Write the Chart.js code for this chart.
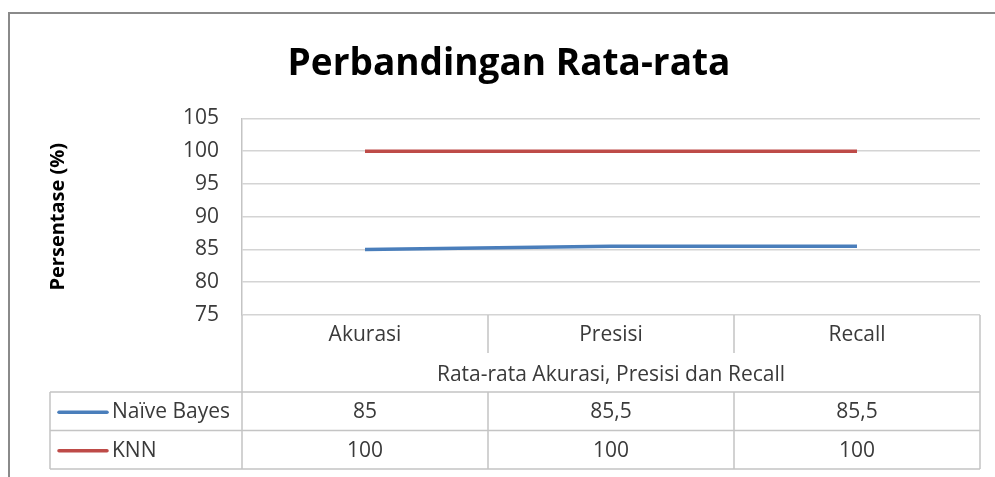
<!DOCTYPE html>
<html>
<head>
<meta charset="utf-8">
<script src="https://cdn.jsdelivr.net/npm/chart.js@4.4.1/dist/chart.umd.min.js"></script>
<style>
  html, body { margin: 0; padding: 0; background: #ffffff; }
  #wrap { width: 995px; height: 477px; position: relative; }
</style>
</head>
<body>
<div id="wrap"><canvas id="c" width="995" height="477"></canvas></div>
<script>
const chartTitle = "Perbandingan Rata-rata";
const categories = ["Akurasi", "Presisi", "Recall"];
const xAxisTitle = "Rata-rata Akurasi, Presisi dan Recall";
const yAxisTitle = "Persentase (%)";
const seriesNames = ["Naïve Bayes", "KNN"];
const naiveBayes = [85, 85.5, 85.5];
const knn = [100, 100, 100];
const seriesColors = ["#4a7ebb", "#be4b48"];
const yMin = 75, yMax = 105, yStep = 5;

const FONT = "'Open Sans', Lato, sans-serif";
const TEXT = "#3a3a3a";
const GRID = "#d4d4d4";
const TABLE_LINE = "#c4c4c4";

const fmt = v => String(v).replace('.', ',');

const tablePlugin = {
  id: 'dataTable',
  beforeDraw(chart) {
    const ctx = chart.ctx;
    ctx.save();
    ctx.fillStyle = '#ffffff';
    ctx.fillRect(0, 0, chart.width, chart.height);
    ctx.strokeStyle = '#8a8a8a';
    ctx.lineWidth = 2;
    ctx.strokeRect(9, 13, chart.width + 20, chart.height + 20);
    ctx.restore();
  },
  afterDraw(chart) {
    const ctx = chart.ctx;
    const xs = chart.scales.x;
    const area = chart.chartArea;
    const n = categories.length;
    const bounds = [];
    for (let i = 0; i <= n; i++) bounds.push(xs.getPixelForValue(i - 0.5));
    const left = 50;
    const catRowBottom = area.bottom + 38;
    const tableTop = area.bottom + 77;
    const rowH = 38.5;
    const tableBottom = tableTop + rowH * seriesNames.length;

    ctx.save();
    ctx.strokeStyle = TABLE_LINE;
    ctx.lineWidth = 1.5;
    ctx.beginPath();
    ctx.moveTo(bounds[0], area.bottom); ctx.lineTo(bounds[0], tableBottom);
    ctx.moveTo(bounds[n], area.bottom); ctx.lineTo(bounds[n], tableBottom);
    for (let i = 1; i < n; i++) {
      ctx.moveTo(bounds[i], area.bottom); ctx.lineTo(bounds[i], catRowBottom);
      ctx.moveTo(bounds[i], tableTop); ctx.lineTo(bounds[i], tableBottom);
    }
    ctx.moveTo(left, tableTop); ctx.lineTo(left, tableBottom);
    for (let r = 0; r <= seriesNames.length; r++) {
      const y = tableTop + r * rowH;
      ctx.moveTo(left, y); ctx.lineTo(bounds[n], y);
    }
    ctx.stroke();

    const datasets = chart.data.datasets;
    ctx.font = "21px " + FONT;
    ctx.textBaseline = 'middle';
    datasets.forEach((ds, r) => {
      const cy = tableTop + r * rowH + rowH / 2 + 1;
      ctx.strokeStyle = ds.borderColor;
      ctx.lineWidth = 3.5;
      ctx.lineCap = 'round';
      ctx.beginPath();
      ctx.moveTo(59, cy); ctx.lineTo(107, cy);
      ctx.stroke();
      ctx.fillStyle = TEXT;
      ctx.textAlign = 'left';
      ctx.fillText(ds.label, 112, cy);
      ctx.textAlign = 'center';
      ds.data.forEach((v, i) => {
        ctx.fillText(fmt(v), xs.getPixelForValue(i), cy);
      });
    });
    ctx.restore();
  }
};

new Chart(document.getElementById('c'), {
  type: 'line',
  data: {
    labels: categories,
    datasets: [
      { label: seriesNames[0], data: naiveBayes, borderColor: seriesColors[0], backgroundColor: seriesColors[0], borderWidth: 3.5, pointRadius: 0, tension: 0 },
      { label: seriesNames[1], data: knn, borderColor: seriesColors[1], backgroundColor: seriesColors[1], borderWidth: 3.5, pointRadius: 0, tension: 0 }
    ]
  },
  plugins: [tablePlugin],
  options: {
    responsive: false,
    animation: false,
    devicePixelRatio: 1,
    layout: { padding: { left: 38, right: 15, top: 0, bottom: 8 } },
    plugins: {
      legend: { display: false },
      tooltip: { enabled: false },
      title: {
        display: true,
        text: chartTitle,
        color: '#000000',
        font: { family: FONT, size: 37, weight: 'bold', lineHeight: 1.2 },
        padding: { top: 42, bottom: 32 }
      }
    },
    scales: {
      x: {
        type: 'category',
        offset: true,
        grid: { display: false, drawTicks: false },
        border: { display: false },
        ticks: { color: TEXT, font: { family: FONT, size: 21 }, padding: 7, maxRotation: 0 },
        title: {
          display: true,
          text: xAxisTitle,
          color: TEXT,
          font: { family: FONT, size: 21, lineHeight: 1.2 },
          padding: { top: 0, bottom: 81 }
        },
        afterFit(scale) { scale.height = 154; }
      },
      y: {
        min: yMin,
        max: yMax,
        ticks: { stepSize: yStep, color: TEXT, font: { family: FONT, size: 21 }, padding: 23 },
        grid: { color: GRID, lineWidth: 1.5, drawTicks: false },
        border: { display: true, color: TABLE_LINE, width: 1.5 },
        title: {
          display: true,
          text: yAxisTitle,
          color: '#000000',
          font: { family: FONT, size: 20, weight: 'bold', lineHeight: 1.2 },
          padding: { top: 8, bottom: 0 }
        },
        afterFit(scale) { scale.width = 204; }
      }
    }
  }
});
</script>
</body>
</html>
